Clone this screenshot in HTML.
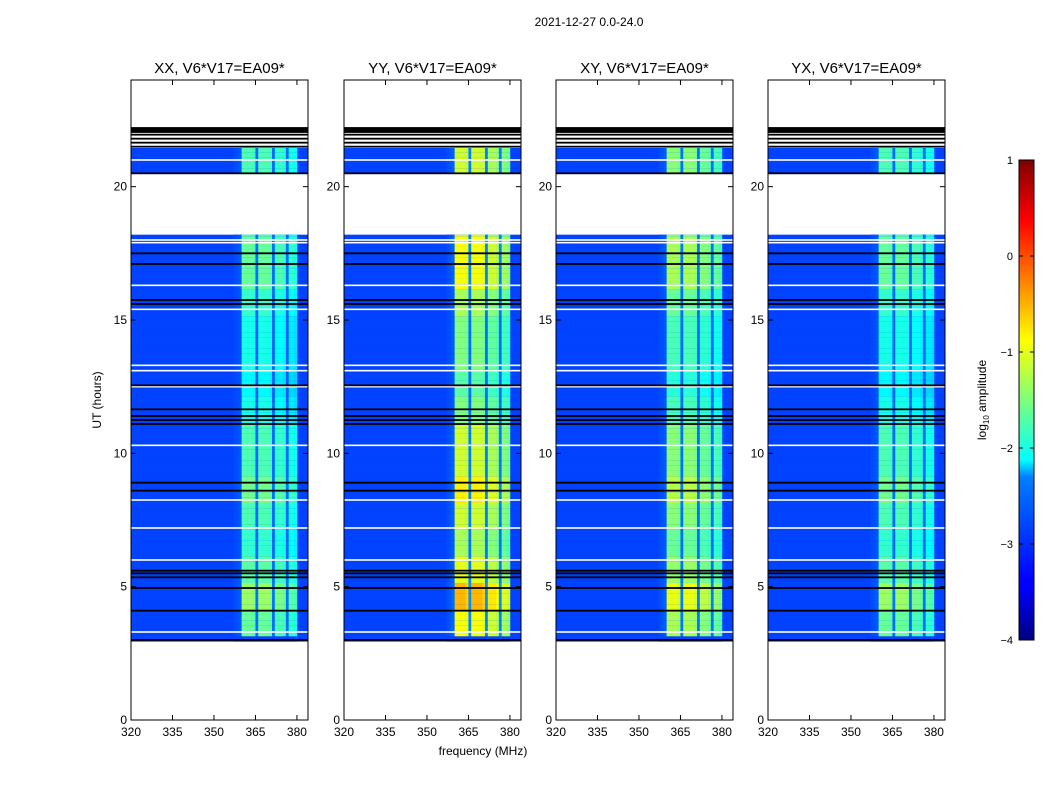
<!DOCTYPE html>
<html><head><meta charset="utf-8">
<style>
body{margin:0;background:#fff;width:1050px;height:800px;overflow:hidden;font-family:"Liberation Sans",sans-serif}
svg text{font-family:"Liberation Sans",sans-serif}
</style></head>
<body>
<svg id="fig" width="1050" height="800" xmlns="http://www.w3.org/2000/svg">
<defs>
<linearGradient id="jet" x1="0" y1="1" x2="0" y2="0">
<stop offset="0" stop-color="#00007f"/><stop offset="0.11" stop-color="#0000ff"/>
<stop offset="0.125" stop-color="#0000ff"/><stop offset="0.34" stop-color="#0080ff"/>
<stop offset="0.375" stop-color="#00ffff"/><stop offset="0.5" stop-color="#7dff7a"/>
<stop offset="0.625" stop-color="#ffff00"/><stop offset="0.875" stop-color="#ff0000"/>
<stop offset="1" stop-color="#7f0000"/>
</linearGradient>
</defs>
<text x="589" y="26" font-size="12" text-anchor="middle">2021-12-27 0.0-24.0</text>
<g id="panels"></g>
<rect x="1019" y="160" width="15" height="480" fill="url(#jet)" stroke="#000" stroke-width="1"/>
<g id="cbticks"></g>
<text transform="translate(986,400) rotate(-90)" font-size="12" text-anchor="middle">log<tspan font-size="8" dy="3">10</tspan><tspan dy="-3"> amplitude</tspan></text>
<text x="483" y="755" font-size="12" text-anchor="middle">frequency (MHz)</text>
<text transform="translate(101,400) rotate(-90)" font-size="12" text-anchor="middle">UT (hours)</text>
</svg>
<script>
const panelNames = ["XX, V6*V17=EA09*","YY, V6*V17=EA09*","XY, V6*V17=EA09*","YX, V6*V17=EA09*"];
const panelBandAmp = [1.3, 1.95, 1.6, 1.3];
const baseLevel = -3.05;
// channel profile, 1 MHz channels from 320 to 383
const channelProfile = [0,0,0,0,0,0,0,0,0,0, 0,0,0,0,0,0,0,0,0,0, 0,0,0,0,0,0,0,0,0,0, 0,0,0,0,0,0,0,0.03,0.05,0.08,
 1.0,1.0,1.0,1.0,0.95,0.15,1.0,1.0,1.0,1.0, 0.95,0.15,0.9,0.9,0.9,0.85,0.15,0.8,0.8,0.75, 0,0,0,0];
// band level per UT hour (0..23)
const bandTime = [0,0,0,1.1,1.3,1.05,0.9,1.0,1.15,1.0,1.0,0.8,0.7,0.8,0.8,0.9,1.1,1.1,1.0,0,1.0,1.0,0,0];
const dataSegments = [[2.95,18.2],[20.5,21.45]];
const blackLines = [3.0,4.1,4.95,5.35,5.5,5.6,8.6,8.9,11.1,11.25,11.4,11.65,12.55,15.6,15.75,17.1,17.5,20.5,21.5,21.65,21.8,21.95,22.05,22.1,22.15,22.2];
const whiteLines = [3.3,6.0,7.2,8.25,10.3,12.5,13.3,13.1,15.4,16.3,17.9,18.0,21.0,21.55,21.75,21.9];
const yTicks = [0,5,10,15,20];
const xTicks = [320,335,350,365,380];
const cbTicks = [1,0,-1,-2,-3,-4];

const panelX = [131,344,556,768], PW=177, PT=80, PH=640;
const NS="http://www.w3.org/2000/svg";
function yS(h){return PT+PH-(h/24)*PH;}
function xS(i,f){return panelX[i]+(f-320)*(PW/64);}
function jet(v){
  let t=Math.max(0,Math.min(1,(v+4)/5));
  function c(x){return Math.max(0,Math.min(1,x));}
  const r=c(1.5-Math.abs(4*t-3)), g=c(1.5-Math.abs(4*t-2)), b=c(1.5-Math.abs(4*t-1));
  return `rgb(${Math.round(r*255)},${Math.round(g*255)},${Math.round(b*255)})`;
}
function mk(tag,attrs,parent){const e=document.createElementNS(NS,tag);for(const k in attrs)e.setAttribute(k,attrs[k]);parent.appendChild(e);return e;}
const root=document.getElementById('panels');
const step=0.2;
panelNames.forEach((nm,i)=>{
  const g=mk('g',{},root);
  
  
  dataSegments.forEach(seg=>{
    for(let t=seg[0];t<seg[1]-1e-6;t+=step){
      const t2=Math.min(seg[1],t+step);
      const bt=bandTime[Math.floor(t)]||0;
      const bg=mk('rect',{x:panelX[i],y:yS(t2),width:PW,height:yS(t)-yS(t2)+0.3,fill:jet(baseLevel)},g);
      
      
      channelProfile.forEach((p,c)=>{
        if(p<=0)return;
        const v=baseLevel+p*panelBandAmp[i]*bt;
        const r=mk('rect',{x:xS(i,320+c),y:yS(t2),width:PW/64+0.3,height:yS(t)-yS(t2)+0.3,fill:jet(v)},g);
        
        
      });
    }
  });
  whiteLines.forEach(h=>{
    const l=mk('rect',{x:panelX[i],y:yS(h)-0.8,width:PW,height:1.6,fill:'#fff'},g);
    
    
  });
  blackLines.forEach(h=>{
    const l=mk('rect',{x:panelX[i],y:yS(h)-0.9,width:PW,height:1.8,fill:'#000'},g);
    
    
  });
  const fr=mk('rect',{x:panelX[i],y:PT,width:PW,height:PH,fill:'none',stroke:'#000','stroke-width':1},g);
  
  
  const tt=mk('text',{x:panelX[i]+PW/2,y:73,'font-size':15,'text-anchor':'middle'},g);
  tt.textContent=nm;
  
  
  yTicks.forEach(h=>{
    const y=yS(h);
    mk('line',{x1:panelX[i],x2:panelX[i]+5,y1:y,y2:y,stroke:'#000'},g);
    mk('line',{x1:panelX[i]+PW-5,x2:panelX[i]+PW,y1:y,y2:y,stroke:'#000'},g);
    const tx=mk('text',{x:panelX[i]-4,y:y+4,'font-size':12,'text-anchor':'end'},g);
    tx.textContent=h;
    
    
  });
  xTicks.forEach(f=>{
    const x=xS(i,f);
    mk('line',{x1:x,x2:x,y1:PT+PH,y2:PT+PH-5,stroke:'#000'},g);
    mk('line',{x1:x,x2:x,y1:PT,y2:PT+5,stroke:'#000'},g);
    const tx=mk('text',{x:x,y:PT+PH+16,'font-size':12,'text-anchor':'middle'},g);
    tx.textContent=f;
    
    
  });
});
const cb=document.getElementById('cbticks');
cbTicks.forEach(v=>{
  const y=640-(v+4)/5*480;
  mk('line',{x1:1019,x2:1023,y1:y,y2:y,stroke:'#000'},cb);
  mk('line',{x1:1030,x2:1034,y1:y,y2:y,stroke:'#000'},cb);
  const tx=mk('text',{x:1013,y:y+4,'font-size':11,'text-anchor':'end'},cb);
  tx.textContent=v<0?'\u2212'+(-v):v;
  
  
});
</script>
</body></html>
